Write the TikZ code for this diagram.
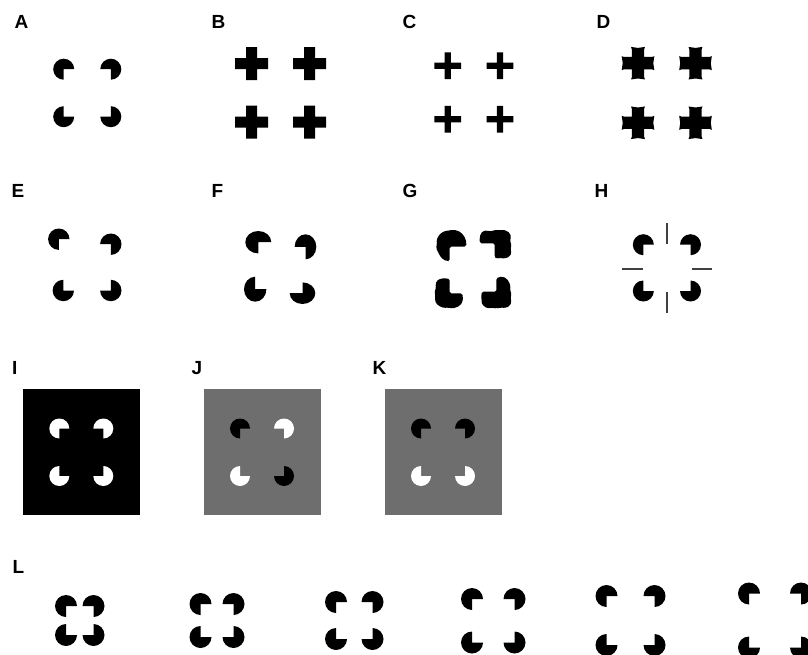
\documentclass[tikz,border=0pt]{standalone}
\usepackage{fontspec}
\setsansfont{Liberation Sans}
\usepackage{tikz}

\begin{document}
\begin{tikzpicture}[x=1pt, y=-1pt,
    panellabel/.style={font=\sffamily\bfseries\fontsize{19}{19}\selectfont, anchor=base west, inner sep=0pt},
    guideline/.style={draw=black!75, line width=1.6pt}]
    \useasboundingbox (0,0) rectangle (808,655);
    \clip (0,0) rectangle (808,655);
    % panel labels
    \node[panellabel] (labA) at (14.5,29) {A};
    \node[panellabel] (labB) at (211.5,29) {B};
    \node[panellabel] (labC) at (402.5,29) {C};
    \node[panellabel] (labD) at (596.5,29) {D};
    \node[panellabel] (labE) at (11.5,197) {E};
    \node[panellabel] (labF) at (211.5,197) {F};
    \node[panellabel] (labG) at (402.5,197) {G};
    \node[panellabel] (labH) at (594.5,197) {H};
    \node[panellabel] (labI) at (12,374) {I};
    \node[panellabel] (labJ) at (191.5,374) {J};
    \node[panellabel] (labK) at (372.5,374) {K};
    \node[panellabel] (labL) at (12.5,573) {L};
    % A
    \fill (63.7,69.2) -- +(90:10.5) arc (90:360:10.5) -- cycle;
    \fill (110.8,69.2) -- +(180:10.5) arc (180:450:10.5) -- cycle;
    \fill (63.7,116.7) -- +(0:10.5) arc (0:270:10.5) -- cycle;
    \fill (110.8,116.7) -- +(270:10.5) arc (270:540:10.5) -- cycle;
    % B
    \fill (235.2,58.2) rectangle (268.2,69.2) (246.2,47.2) rectangle (257.2,80.2);
    \fill (293.2,58.2) rectangle (326.2,69.2) (304.2,47.2) rectangle (315.2,80.2);
    \fill (235.2,116.7) rectangle (268.2,127.7) (246.2,105.7) rectangle (257.2,138.7);
    \fill (293.2,116.7) rectangle (326.2,127.7) (304.2,105.7) rectangle (315.2,138.7);
    % C
    \fill (434.4,62.6) rectangle (461,69) (444.5,52.5) rectangle (450.9,79.1);
    \fill (486.7,62.6) rectangle (513.3,69) (496.8,52.5) rectangle (503.2,79.1);
    \fill (434.4,116.1) rectangle (461,122.5) (444.5,106) rectangle (450.9,132.6);
    \fill (486.7,116.1) rectangle (513.3,122.5) (496.8,106) rectangle (503.2,132.6);
    % D
    \foreach \cx/\cy in {638/63.2, 695.5/63.2, 638/122.8, 695.5/122.8}
        \fill[shift={(\cx,\cy)}] (6.2,-6.2) -- (14,-6.2) -- (16.3,-7) -- (15.3,0) -- (16.3,7) -- (14,6.2)
            -- (6.2,6.2) -- (6.2,14) -- (7,16.3) -- (0,15.3) -- (-7,16.3) -- (-6.2,14)
            -- (-6.2,6.2) -- (-14,6.2) -- (-16.3,7) -- (-15.3,0) -- (-16.3,-7) -- (-14,-6.2)
            -- (-6.2,-6.2) -- (-6.2,-14) -- (-7,-16.3) -- (0,-15.3) -- (7,-16.3) -- (6.2,-14) -- cycle;
    % E
    \fill (58.8,239.2) -- +(90:10.7) arc (90:360:10.7) -- cycle;
    \fill (110.8,244.2) -- +(180:10.7) arc (180:450:10.7) -- cycle;
    \fill (63.3,290.5) -- +(0:10.7) arc (0:270:10.7) -- cycle;
    \fill (110.8,290.5) -- +(270:10.7) arc (270:540:10.7) -- cycle;
    % F
    \fill (258.3,242.2) -- +(90:13 and 11.2) arc (90:360:13 and 11.2) -- cycle;
    \fill (305.5,246.8) -- +(180:10.8 and 12.5) arc (180:450:10.8 and 12.5) -- cycle;
    \fill (255.2,289.2) -- +(0:11.2 and 12.5) arc (0:270:11.2 and 12.5) -- cycle;
    \fill (302.5,293.2) -- +(270:12.8 and 10.8) arc (270:540:12.8 and 10.8) -- cycle;
    % G
    \fill[rounded corners=1.5pt] (449.7,246.7) -- (466,246.5) -- (466.5,243) -- (465.5,239) -- (464,236) -- (461,232.5)
        -- (457,230.5) -- (453,229.8) -- (449,230.5) -- (445,231) -- (441,233) -- (438.5,236) -- (436.5,240)
        -- (437,244) -- (436,248) -- (438,252) -- (440,256) -- (443,259.5) -- (447,261) -- (449.7,261) -- cycle;
    \fill[rounded corners=1.5pt] (494.7,243.3) -- (480,243.3) -- (479.5,239) -- (480.5,234) -- (483,231) -- (487,230.5)
        -- (491,231.5) -- (495,229.8) -- (499,230.5) -- (503,229.8) -- (507,231) -- (510,233.5) -- (511,237)
        -- (510,241) -- (511.5,245) -- (510.5,249) -- (511.5,253) -- (509.5,256.5) -- (505,258.5) -- (500,258)
        -- (496,258.5) -- (494.7,257) -- cycle;
    \fill[rounded corners=1.5pt] (449.7,293.3) -- (449.7,279) -- (446,278.3) -- (441,278.5) -- (437,280.5) -- (435.5,284)
        -- (436,288) -- (434.5,292) -- (435.5,296) -- (434.8,300) -- (436.5,304) -- (440,306.5) -- (444,308)
        -- (448,307.5) -- (452,308.5) -- (456,307.5) -- (460,305.5) -- (462.5,302) -- (463,297) -- (462,293.3) -- cycle;
    \fill[rounded corners=1.5pt] (496.3,291.7) -- (496.3,278.5) -- (499,277) -- (503,276.7) -- (506.5,278.5) -- (509,282)
        -- (510.5,286) -- (510,290) -- (511.5,294) -- (510.5,298) -- (511.5,302) -- (509.5,306) -- (505.5,308)
        -- (501,307.5) -- (497,308.5) -- (492.5,307.8) -- (488,308.3) -- (484,306.5) -- (481.5,303) -- (481.5,298)
        -- (481.3,294) -- (482,291.7) -- cycle;
    % H
    \fill (643.3,244.7) -- +(90:10.5) arc (90:360:10.5) -- cycle;
    \fill (690.5,244.7) -- +(180:10.5) arc (180:450:10.5) -- cycle;
    \fill (643.3,291) -- +(0:10.5) arc (0:270:10.5) -- cycle;
    \fill (690.5,291) -- +(270:10.5) arc (270:540:10.5) -- cycle;
    \draw[guideline] (666.7,223) -- (666.7,244);
    \draw[guideline] (622.3,268.7) -- (643.3,268.7);
    \draw[guideline] (691.7,268.7) -- (712.3,268.7);
    \draw[guideline] (666.7,292) -- (666.7,313);
    % I
    \fill (23,389) rectangle (140,515);
    \fill[white] (59.3,428.5) -- +(90:10) arc (90:360:10) -- cycle;
    \fill[white] (103.3,428.5) -- +(180:10) arc (180:450:10) -- cycle;
    \fill[white] (59.3,476) -- +(0:10) arc (0:270:10) -- cycle;
    \fill[white] (103.3,476) -- +(270:10) arc (270:540:10) -- cycle;
    % J
    \fill[black!57] (204,389) rectangle (321,515);
    \fill (240,428.5) -- +(90:10) arc (90:360:10) -- cycle;
    \fill[white] (284,428.5) -- +(180:10) arc (180:450:10) -- cycle;
    \fill[white] (240,476) -- +(0:10) arc (0:270:10) -- cycle;
    \fill (284,476) -- +(270:10) arc (270:540:10) -- cycle;
    % K
    \fill[black!57] (385,389) rectangle (502,515);
    \fill (421,428.5) -- +(90:10) arc (90:360:10) -- cycle;
    \fill (465,428.5) -- +(180:10) arc (180:450:10) -- cycle;
    \fill[white] (421,476) -- +(0:10) arc (0:270:10) -- cycle;
    \fill[white] (465,476) -- +(270:10) arc (270:540:10) -- cycle;
    % L
    \fill (66,606) -- +(90:11) arc (90:360:11) -- cycle;
    \fill (93.5,606) -- +(180:11) arc (180:450:11) -- cycle;
    \fill (66,635) -- +(0:11) arc (0:270:11) -- cycle;
    \fill (93.5,635) -- +(270:11) arc (270:540:11) -- cycle;
    \fill (200.5,604) -- +(90:11) arc (90:360:11) -- cycle;
    \fill (233.5,604) -- +(180:11) arc (180:450:11) -- cycle;
    \fill (200.5,637) -- +(0:11) arc (0:270:11) -- cycle;
    \fill (233.5,637) -- +(270:11) arc (270:540:11) -- cycle;
    \fill (336,602) -- +(90:11) arc (90:360:11) -- cycle;
    \fill (372.5,602) -- +(180:11) arc (180:450:11) -- cycle;
    \fill (336,639) -- +(0:11) arc (0:270:11) -- cycle;
    \fill (372.5,639) -- +(270:11) arc (270:540:11) -- cycle;
    \fill (472,599) -- +(90:11) arc (90:360:11) -- cycle;
    \fill (514.5,599) -- +(180:11) arc (180:450:11) -- cycle;
    \fill (472,642.5) -- +(0:11) arc (0:270:11) -- cycle;
    \fill (514.5,642.5) -- +(270:11) arc (270:540:11) -- cycle;
    \fill (606.5,596) -- +(90:11) arc (90:360:11) -- cycle;
    \fill (654.5,596) -- +(180:11) arc (180:450:11) -- cycle;
    \fill (606.5,645) -- +(0:11) arc (0:270:11) -- cycle;
    \fill (654.5,645) -- +(270:11) arc (270:540:11) -- cycle;
    \fill (749,593.5) -- +(90:11) arc (90:360:11) -- cycle;
    \fill (801,593.5) -- +(180:11) arc (180:450:11) -- cycle;
    \fill (749,647.5) -- +(0:11) arc (0:270:11) -- cycle;
    \fill (801,647.5) -- +(270:11) arc (270:540:11) -- cycle;
\end{tikzpicture}
\end{document}
